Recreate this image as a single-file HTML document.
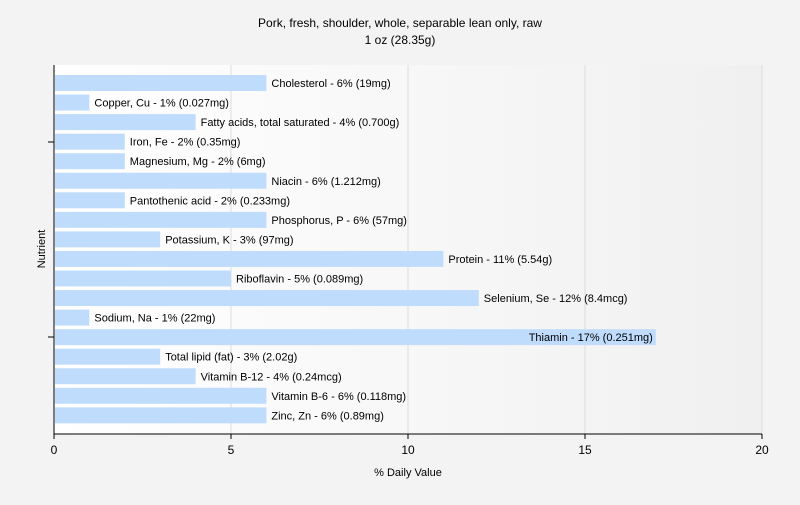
<!DOCTYPE html>
<html><head><meta charset="utf-8"><style>
body{margin:0;background:#f3f3f3;font-family:"Liberation Sans",sans-serif;}
</style></head><body>
<svg id="c" width="800" height="500" xmlns="http://www.w3.org/2000/svg">
<defs><linearGradient id="bg" x1="0" x2="1" y1="0" y2="0"><stop offset="0" stop-color="#ffffff"/><stop offset="1" stop-color="#f0f0f0"/></linearGradient></defs>
<rect width="800" height="500" fill="#f3f3f3"/>
<rect x="54" y="65" width="708" height="369" fill="url(#bg)"/>
<text x="400" y="27" text-anchor="middle" font-size="12">Pork, fresh, shoulder, whole, separable lean only, raw</text>
<text x="400" y="44" text-anchor="middle" font-size="12">1 oz (28.35g)</text>
<text x="408" y="476" text-anchor="middle" font-size="11">% Daily Value</text>
<text transform="translate(45,249) rotate(-90)" text-anchor="middle" font-size="11">Nutrient</text>
<g id="grid"></g><g id="bars"></g><g id="axes"></g>
</svg>
<script>
const categories=["Cholesterol","Copper, Cu","Fatty acids, total saturated","Iron, Fe","Magnesium, Mg","Niacin","Pantothenic acid","Phosphorus, P","Potassium, K","Protein","Riboflavin","Selenium, Se","Sodium, Na","Thiamin","Total lipid (fat)","Vitamin B-12","Vitamin B-6","Zinc, Zn"];
const values=[6,1,4,2,2,6,2,6,3,11,5,12,1,17,3,4,6,6];
const amounts=["19mg","0.027mg","0.700g","0.35mg","6mg","1.212mg","0.233mg","57mg","97mg","5.54g","0.089mg","8.4mcg","22mg","0.251mg","2.02g","0.24mcg","0.118mg","0.89mg"];
const xTicks=[0,5,10,15,20];
const NS="http://www.w3.org/2000/svg";
const x=v=>54+v*35.4;
const y=i=>75+i*19.55;
function mk(t,a,p){const e=document.createElementNS(NS,t);for(const k in a)e.setAttribute(k,a[k]);p.appendChild(e);return e;}
const grid=document.getElementById('grid'),bars=document.getElementById('bars'),axes=document.getElementById('axes');
xTicks.forEach(t=>{
 if(t>0){const g=mk('line',{x1:x(t),x2:x(t),y1:65,y2:434,stroke:'#dcdcdc'},grid);
 
 }
 const tk=mk('line',{x1:x(t),x2:x(t),y1:434,y2:439,stroke:'#000'},axes);
 
 
 const lb=mk('text',{x:x(t),y:454,'text-anchor':'middle','font-size':12},axes);lb.textContent=t;
 
 
});
categories.forEach((c,i)=>{
 const r=mk('rect',{x:55,y:y(i),width:x(values[i])-55,height:16,fill:'#c0dcfc'},bars);
 
 
 const label=c+' - '+values[i]+'% ('+amounts[i]+')';
 const inside=values[i]>=15;
 const t=mk('text',{x:inside?x(values[i])-3:x(values[i])+5,y:y(i)+12,'font-size':11,'text-anchor':inside?'end':'start'},bars);
 t.textContent=label;
 
 
});
const ax=mk('line',{x1:54,x2:54,y1:65,y2:434,stroke:'#000'},axes);


const xa=mk('line',{x1:54,x2:762,y1:434,y2:434,stroke:'#000'},axes);


[142,337].forEach((yy,j)=>{const l=mk('line',{x1:48,x2:54,y1:yy,y2:yy,stroke:'#000'},axes);
 
 });
</script>
</body></html>
